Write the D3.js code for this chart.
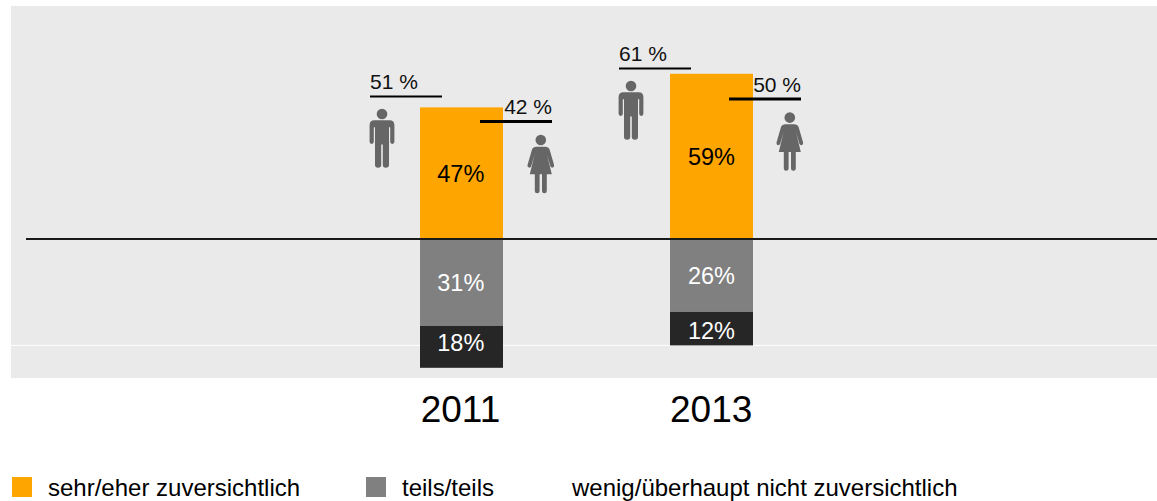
<!DOCTYPE html>
<html><head><meta charset="utf-8">
<script src="https://cdn.jsdelivr.net/npm/d3@7"></script>
<style>html,body{margin:0;padding:0;background:#fff}svg{display:block}text{font-family:"Liberation Sans",Arial,sans-serif}</style>
</head><body><svg id="c" width="1157" height="501"></svg>
<script>
const years = ["2011", "2013"];
const positive = [47, 59];
const neutral = [31, 26];
const negative = [15, 12];
const positiveLabels = ["47%", "59%"];
const neutralLabels = ["31%", "26%"];
const negativeLabels = ["18%", "12%"];
const men = [51, 61];
const women = [42, 50];
const legendLabels = ["sehr/eher zuversichtlich", "teils/teils", "wenig/überhaupt nicht zuversichtlich"];

const W = 1157, H = 501;
const svg = d3.select("#c");
const x = d3.scalePoint().domain(years).range([461.5, 711.5]);
const xNote = d3.scalePoint().domain(years).range([461.5, 710.5]);
const xLabel = d3.scalePoint().domain(years).range([460.8, 711.5]);
const y = d3.scaleLinear().domain([0, 100]).range([239, -41]);
const barW = 83;
const ORANGE = "#ffa500", GRAY = "#808080", DARK = "#262626", BG = "#eaeaea", ICON = "#666666";
const darkLabelShift = [-4, 2];

svg.append("rect").attr("x", 11).attr("y", 6).attr("width", W - 11).attr("height", 372).attr("fill", BG);
svg.append("rect").attr("x", 11).attr("y", 344.9).attr("width", W - 11).attr("height", 1).attr("fill", "#ffffff");

const MALE = "M-7.6,6.3H7.6Q12.4,6.3 12.4,11.2V27.8Q12.4,29.9 10.3,29.9Q8.2,29.9 8.2,27.8V13.2H7V51Q7,53.8 3.9,53.8Q0.8,53.8 0.8,51V30.5H-0.8V51Q-0.8,53.8 -3.9,53.8Q-7,53.8 -7,51V13.2H-8.2V27.8Q-8.2,29.9 -10.3,29.9Q-12.4,29.9 -12.4,27.8V11.2Q-12.4,6.3 -7.6,6.3Z";
const FEMALE = "M-4.5,6.7H4.5Q7.6,6.7 8.8,9.5L13.3,25Q13.6,27.2 11.9,27.6Q10.3,27.9 9.6,26.2L6.2,14.5L11,34.3H6V51Q6,53.2 3.6,53.2Q1.2,53.2 1.2,51V34.3H-1.2V51Q-1.2,53.2 -3.6,53.2Q-6,53.2 -6,51V34.3H-11L-6.2,14.5L-9.6,26.2Q-10.3,27.9 -11.9,27.6Q-13.6,27.2 -13.3,25L-8.8,9.5Q-7.6,6.7 -4.5,6.7Z";

function icon(px, py, d) {
  const g = svg.append("g").attr("transform", `translate(${px},${py})`).attr("fill", ICON);
  g.append("circle").attr("r", 5.3);
  g.append("path").attr("d", d);
}

years.forEach((yr, i) => {
  const cx = x(yr), left = cx - barW / 2, nx = xNote(yr), lx = xLabel(yr);
  const stack = [
    { v0: 0, v1: positive[i], c: ORANGE, label: positiveLabels[i], t: "#000000", dy: 0 },
    { v0: -neutral[i], v1: 0, c: GRAY, label: neutralLabels[i], t: "#ffffff", dy: 0 },
    { v0: -neutral[i] - negative[i], v1: -neutral[i], c: DARK, label: negativeLabels[i], t: "#ffffff", dy: darkLabelShift[i] }
  ];
  stack.forEach(s => {
    svg.append("rect").attr("x", left).attr("y", y(s.v1)).attr("width", barW)
      .attr("height", y(s.v0) - y(s.v1)).attr("fill", s.c);
    svg.append("text").attr("x", lx).attr("y", (y(s.v0) + y(s.v1)) / 2 + 8.5 + s.dy)
      .attr("text-anchor", "middle").attr("font-size", 23.5).attr("fill", s.t).text(s.label);
  });
  svg.append("text").attr("x", lx - 0.3).attr("y", 422).attr("text-anchor", "middle")
    .attr("font-size", 37).attr("fill", "#000").text(yr);

  // men
  const my = y(men[i]);
  svg.append("line").attr("x1", nx - 91.5).attr("x2", nx - 19.5).attr("y1", my + 0.3).attr("y2", my + 0.3)
    .attr("stroke", "#000").attr("stroke-width", 2);
  svg.append("text").attr("x", nx - 91.5).attr("y", my - 7).attr("font-size", 21).attr("fill", "#111").text(men[i] + " %");
  icon(nx - 79.5, my + 17.8, MALE);

  // women
  const wy = y(women[i]);
  svg.append("line").attr("x1", nx + 18.5).attr("x2", nx + 90.5).attr("y1", wy).attr("y2", wy)
    .attr("stroke", "#000").attr("stroke-width", 3);
  svg.append("text").attr("x", nx + 90.5).attr("y", wy - 7).attr("text-anchor", "end").attr("font-size", 21).attr("fill", "#111").text(women[i] + " %");
  icon(nx + 79.3, wy + 18.6, FEMALE);
});

svg.append("line").attr("x1", 26).attr("x2", W).attr("y1", y(0)).attr("y2", y(0)).attr("stroke", "#1a1a1a").attr("stroke-width", 2);

const legendSwatch = [ORANGE, GRAY];
[48, 402, 572].forEach((lx, i) => {
  svg.append("text").attr("x", lx).attr("y", 496).attr("font-size", 24).attr("fill", "#000").text(legendLabels[i]);
});
legendSwatch.forEach((c, i) => {
  svg.append("rect").attr("x", [12, 366][i]).attr("y", 477).attr("width", 20).attr("height", 20).attr("fill", c);
});
</script></body></html>
